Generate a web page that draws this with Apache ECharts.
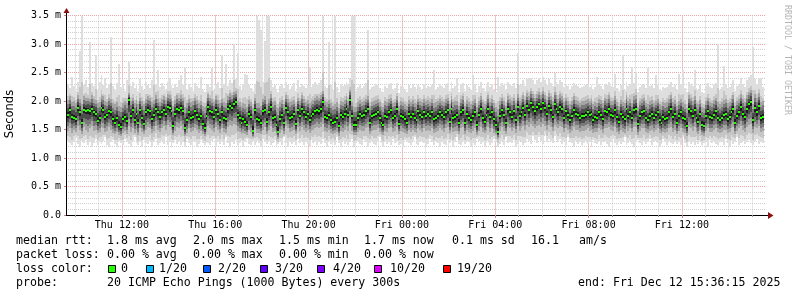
<!DOCTYPE html>
<html><head><meta charset="utf-8">
<script src="https://cdn.jsdelivr.net/npm/echarts@6/dist/echarts.min.js"></script>
<style>html,body{margin:0;padding:0;background:#fff}#c{width:797px;height:297px}</style>
</head><body><div id="c"></div>
<script>
// ---- time axis (hours since Thu 00:00) ----
const X_MIN = 9 + 36/60 + 15/3600;      // Thu 09:36:15
const X_MAX = X_MIN + 30;               // Fri 15:36:15
const SAMPLE_START = 9 + 40/60;          // first sample Thu 09:40
const SAMPLE_STEP = 5/60;                // 300 s
const hourTicks = [10,11,12,13,14,15,16,17,18,19,20,21,22,23,24,25,26,27,28,29,30,31,32,33,34,35,36,37,38,39];
const majorTicks = [12,16,20,24,28,32,36];
const majorLabels = ['Thu 12:00','Thu 16:00','Thu 20:00','Fri 00:00','Fri 04:00','Fri 08:00','Fri 12:00'];
const yTickLabels = ['0.0','0.5 m','1.0 m','1.5 m','2.0 m','2.5 m','3.0 m','3.5 m'];

// ---- median rtt (ms) ----
const med = [
1.75,1.84,1.72,1.70,1.68,1.88,1.80,1.62,1.85,1.83,1.84,1.82,
1.86,1.80,1.78,1.65,1.70,1.88,1.85,1.72,1.75,1.82,1.80,1.68,
1.62,1.70,1.58,1.55,1.68,1.72,1.65,2.02,1.74,1.85,1.66,1.78,
1.62,1.84,1.70,1.60,1.80,1.85,1.82,1.68,1.76,1.86,1.80,1.72,
1.80,1.85,1.78,1.90,1.88,1.82,1.56,1.78,1.86,1.84,1.88,1.82,
1.52,1.66,1.80,1.70,1.72,1.82,1.76,1.68,1.74,1.60,1.53,1.74,
1.90,1.82,1.80,1.72,1.85,1.78,1.66,1.80,1.70,1.68,1.86,1.92,
1.88,1.95,1.99,1.75,1.70,1.62,1.68,1.64,1.58,1.78,1.72,1.48,
1.84,1.68,1.66,1.62,1.82,1.85,1.64,1.80,1.90,1.70,1.72,1.58,
1.46,1.68,1.75,1.62,1.88,1.80,1.70,1.72,1.78,1.60,1.84,1.74,
1.86,1.80,1.72,1.78,1.66,1.74,1.78,1.82,1.84,1.82,1.86,1.98,
1.72,1.70,1.76,1.66,1.62,1.64,1.70,1.56,1.75,1.72,1.78,1.86,
1.76,2.02,1.74,1.58,1.58,1.70,1.78,1.74,1.75,1.82,1.86,1.62,
1.74,1.76,1.78,1.80,1.70,1.62,1.58,1.74,1.72,1.80,1.84,1.70,
1.74,1.86,1.60,1.74,1.72,1.68,1.62,1.78,1.72,1.78,1.70,1.66,
1.82,1.76,1.72,1.80,1.74,1.78,1.74,1.80,1.68,1.70,1.74,1.80,
1.76,1.72,1.80,1.84,1.64,1.86,1.70,1.72,1.75,1.62,1.80,1.84,
1.62,1.78,1.70,1.66,1.74,1.80,1.58,1.76,1.86,1.70,1.64,1.76,
1.86,1.72,1.80,1.68,1.58,1.45,1.74,1.84,1.76,1.62,1.86,1.80,
1.72,1.82,1.66,1.90,1.74,1.80,1.88,1.76,1.92,1.84,1.96,1.90,
1.82,1.90,1.94,1.86,1.96,1.88,1.78,1.92,1.84,1.72,1.94,1.86,
1.80,1.90,1.86,1.70,1.82,1.76,1.66,1.74,1.84,1.78,1.76,1.70,
1.74,1.74,1.76,1.80,1.75,1.78,1.66,1.72,1.70,1.80,1.76,1.68,
1.82,1.80,1.86,1.76,1.74,1.84,1.72,1.64,1.78,1.72,1.68,1.86,
1.74,1.80,1.70,1.84,1.86,1.60,1.74,1.80,1.82,1.70,1.66,1.74,
1.78,1.70,1.76,1.80,1.66,1.62,1.72,1.68,1.70,1.80,1.86,1.72,
1.78,1.62,1.74,1.80,1.70,1.68,1.56,1.86,1.82,1.74,1.84,1.70,
1.64,1.78,1.58,1.56,1.74,1.82,1.72,1.70,1.76,1.82,1.70,1.66,
1.70,1.76,1.78,1.68,1.72,1.80,1.86,1.62,1.74,1.80,1.90,1.78,
1.72,1.86,1.94,1.98,1.66,1.88,1.80,1.92,1.70,1.72];

// ---- fastest ping per sample (ms) ----
const mn = [
1.30,1.26,1.22,1.28,1.35,1.24,1.20,1.30,1.26,1.32,1.22,1.28,
1.20,1.26,1.34,1.22,1.28,1.24,1.30,1.36,1.22,1.20,1.28,1.32,
1.24,1.20,1.30,1.26,1.22,1.34,1.28,1.24,1.20,1.30,1.36,1.26,
1.22,1.28,1.20,1.32,1.26,1.24,1.30,1.20,1.28,1.34,1.22,1.26,
1.30,1.24,1.36,1.22,1.28,1.20,1.26,1.32,1.24,1.30,1.22,1.28,
1.20,1.34,1.26,1.22,1.30,1.28,1.20,1.24,1.32,1.26,1.22,1.30,
1.26,1.22,1.30,1.34,1.20,1.28,1.24,1.30,1.22,1.36,1.26,1.20,
1.28,1.24,1.32,1.22,1.26,1.30,1.20,1.28,1.34,1.24,1.22,1.30,
1.22,1.30,1.26,1.20,1.34,1.28,1.24,1.30,1.22,1.26,1.32,1.20,
1.24,1.28,1.22,1.36,1.26,1.20,1.30,1.24,1.28,1.22,1.34,1.26,
1.30,1.22,1.28,1.24,1.20,1.32,1.26,1.30,1.22,1.28,1.24,1.34,
1.26,1.20,1.30,1.24,1.28,1.22,1.36,1.26,1.20,1.30,1.24,1.28,
1.22,1.28,1.34,1.20,1.26,1.30,1.24,1.22,1.32,1.28,1.20,1.26,
1.30,1.24,1.22,1.28,1.36,1.26,1.20,1.30,1.24,1.28,1.22,1.34,
1.26,1.30,1.22,1.24,1.20,1.32,1.28,1.26,1.22,1.30,1.36,1.24,
1.22,1.28,1.30,1.26,1.20,1.24,1.34,1.28,1.22,1.30,1.26,1.20,
1.28,1.24,1.22,1.32,1.26,1.30,1.20,1.28,1.36,1.24,1.22,1.30,
1.24,1.30,1.28,1.20,1.26,1.22,1.34,1.30,1.24,1.28,1.20,1.26,
1.30,1.22,1.26,1.34,1.28,1.20,1.24,1.30,1.22,1.36,1.26,1.28,
1.26,1.32,1.20,1.24,1.30,1.28,1.22,1.26,1.34,1.30,1.24,1.38,
1.32,1.26,1.36,1.30,1.24,1.40,1.28,1.34,1.30,1.26,1.38,1.32,
1.28,1.34,1.24,1.30,1.22,1.36,1.28,1.26,1.20,1.30,1.24,1.28,
1.22,1.26,1.30,1.24,1.28,1.20,1.32,1.26,1.24,1.30,1.22,1.28,
1.30,1.24,1.20,1.28,1.34,1.26,1.22,1.30,1.24,1.28,1.36,1.22,
1.26,1.30,1.24,1.20,1.28,1.32,1.26,1.22,1.30,1.24,1.28,1.34,
1.22,1.28,1.30,1.26,1.20,1.24,1.34,1.28,1.22,1.30,1.26,1.24,
1.30,1.24,1.28,1.22,1.36,1.26,1.20,1.30,1.24,1.28,1.22,1.32,
1.24,1.30,1.22,1.26,1.28,1.20,1.32,1.26,1.30,1.24,1.22,1.28,
1.28,1.22,1.34,1.26,1.20,1.30,1.24,1.28,1.36,1.22,1.26,1.30,
1.24,1.28,1.32,1.26,1.22,1.30,1.34,1.24,1.28,1.26];

// ---- lower inner ping band (ms) ----
const lo = [
1.48,1.52,1.44,1.50,1.46,1.56,1.50,1.42,1.54,1.50,1.46,1.52,
1.56,1.48,1.50,1.44,1.46,1.54,1.52,1.46,1.48,1.54,1.50,1.44,
1.42,1.46,1.40,1.38,1.44,1.48,1.42,1.56,1.46,1.52,1.44,1.50,
1.40,1.52,1.46,1.42,1.50,1.54,1.52,1.44,1.48,1.56,1.50,1.46,
1.52,1.56,1.50,1.58,1.54,1.50,1.40,1.48,1.54,1.52,1.56,1.50,
1.38,1.44,1.52,1.46,1.48,1.52,1.50,1.44,1.48,1.42,1.38,1.46,
1.56,1.52,1.50,1.46,1.54,1.50,1.44,1.52,1.46,1.44,1.54,1.58,
1.56,1.60,1.58,1.48,1.46,1.42,1.44,1.42,1.40,1.50,1.46,1.36,
1.52,1.44,1.44,1.42,1.50,1.54,1.42,1.50,1.56,1.46,1.48,1.40,
1.34,1.44,1.50,1.42,1.56,1.52,1.46,1.48,1.50,1.42,1.54,1.48,
1.54,1.50,1.46,1.50,1.44,1.48,1.50,1.52,1.54,1.52,1.54,1.60,
1.48,1.46,1.50,1.44,1.42,1.44,1.46,1.38,1.48,1.46,1.50,1.54,
1.48,1.60,1.48,1.40,1.40,1.46,1.50,1.48,1.48,1.52,1.54,1.42,
1.48,1.50,1.50,1.52,1.46,1.42,1.40,1.48,1.46,1.52,1.54,1.46,
1.48,1.54,1.42,1.48,1.46,1.44,1.42,1.50,1.46,1.50,1.46,1.44,
1.52,1.50,1.46,1.52,1.48,1.50,1.48,1.52,1.44,1.46,1.48,1.52,
1.50,1.46,1.52,1.54,1.44,1.54,1.46,1.48,1.48,1.42,1.52,1.54,
1.42,1.50,1.46,1.44,1.48,1.52,1.40,1.48,1.54,1.46,1.44,1.48,
1.54,1.46,1.52,1.44,1.40,1.34,1.48,1.54,1.48,1.42,1.54,1.52,
1.48,1.52,1.44,1.56,1.48,1.52,1.56,1.50,1.58,1.54,1.60,1.56,
1.52,1.56,1.58,1.54,1.60,1.56,1.50,1.58,1.54,1.48,1.58,1.54,
1.52,1.56,1.54,1.46,1.52,1.50,1.44,1.48,1.54,1.50,1.50,1.46,
1.48,1.48,1.50,1.52,1.48,1.50,1.44,1.46,1.46,1.52,1.50,1.44,
1.52,1.52,1.54,1.50,1.48,1.54,1.46,1.42,1.50,1.46,1.44,1.54,
1.48,1.52,1.46,1.54,1.54,1.40,1.48,1.52,1.52,1.46,1.44,1.48,
1.50,1.46,1.50,1.52,1.44,1.42,1.46,1.44,1.46,1.52,1.54,1.46,
1.50,1.42,1.48,1.52,1.46,1.44,1.38,1.54,1.52,1.48,1.54,1.46,
1.42,1.50,1.40,1.38,1.48,1.52,1.46,1.46,1.50,1.52,1.46,1.44,
1.46,1.50,1.50,1.44,1.46,1.52,1.54,1.42,1.48,1.52,1.56,1.50,
1.46,1.54,1.58,1.60,1.44,1.54,1.52,1.56,1.46,1.48];

// ---- upper inner ping band (ms) ----
const hi = [
2.02,2.08,1.98,2.00,1.96,2.10,2.04,1.94,2.08,2.06,2.06,2.04,
2.10,2.04,2.02,1.96,1.98,2.10,2.08,2.00,1.98,2.06,2.04,1.96,
1.94,1.98,1.92,1.90,1.96,2.00,1.96,2.14,2.00,2.06,1.96,2.02,
1.94,2.06,2.00,1.94,2.04,2.08,2.06,1.98,2.02,2.10,2.04,1.98,
2.04,2.08,2.02,2.12,2.10,2.06,1.92,2.02,2.10,2.06,2.10,2.06,
1.90,1.96,2.04,1.98,2.00,2.06,2.02,1.96,2.00,1.92,1.90,1.98,
2.12,2.06,2.04,1.98,2.08,2.02,1.96,2.04,1.98,1.96,2.08,2.14,
2.10,2.16,2.18,2.00,1.98,1.92,1.96,1.94,1.90,2.02,1.98,1.88,
2.06,1.96,1.96,1.92,2.04,2.08,1.94,2.04,2.12,1.98,2.00,1.90,
1.88,1.98,2.02,1.94,2.10,2.04,1.98,2.00,2.02,1.92,2.06,2.00,
2.10,2.04,1.98,2.02,1.96,2.00,2.02,2.06,2.08,2.06,2.10,2.18,
2.00,1.98,2.02,1.96,1.92,1.94,1.98,1.88,2.00,1.98,2.02,2.08,
2.00,2.20,1.98,1.90,1.90,1.98,2.02,1.98,2.00,2.04,2.08,1.92,
1.98,2.00,2.02,2.04,1.98,1.92,1.90,2.00,1.98,2.04,2.06,1.96,
1.98,2.08,1.92,2.00,1.98,1.94,1.92,2.02,1.98,2.02,1.96,1.94,
2.04,2.00,1.98,2.04,2.00,2.02,1.98,2.04,1.96,1.98,2.00,2.04,
2.00,1.98,2.04,2.06,1.94,2.08,1.98,2.00,2.00,1.92,2.04,2.08,
1.92,2.02,1.98,1.94,2.00,2.04,1.90,2.00,2.08,1.98,1.94,2.00,
2.10,1.98,2.04,1.96,1.90,1.86,2.00,2.06,2.00,1.92,2.08,2.04,
2.00,2.06,1.96,2.12,2.00,2.04,2.10,2.02,2.14,2.08,2.18,2.12,
2.06,2.12,2.16,2.10,2.18,2.10,2.02,2.14,2.08,2.00,2.16,2.10,
2.04,2.12,2.08,1.98,2.06,2.00,1.94,2.00,2.08,2.02,2.00,1.96,
2.00,2.00,2.02,2.04,2.00,2.04,1.94,1.98,1.96,2.04,2.02,1.96,
2.06,2.04,2.10,2.00,2.00,2.08,1.98,1.92,2.02,1.98,1.96,2.10,
2.00,2.04,1.96,2.08,2.10,1.90,2.00,2.04,2.06,1.96,1.94,2.00,
2.02,1.96,2.00,2.04,1.94,1.92,1.98,1.96,1.98,2.04,2.10,1.98,
2.02,1.92,2.00,2.04,1.98,1.94,1.88,2.10,2.06,2.00,2.08,1.96,
1.94,2.02,1.90,1.88,2.00,2.06,1.98,1.96,2.02,2.06,1.98,1.94,
1.98,2.02,2.04,1.96,1.98,2.04,2.10,1.92,2.00,2.04,2.12,2.04,
1.98,2.10,2.16,2.20,1.94,2.12,2.06,2.14,1.98,2.00];

// ---- slowest ping per sample (ms) ----
const mx = [
2.30,2.22,2.42,2.26,2.18,2.34,2.88,3.50,2.28,2.36,2.24,3.04,
2.32,2.26,2.80,2.20,2.34,2.45,2.28,2.40,2.22,2.30,3.13,2.26,
2.20,2.32,2.65,2.24,2.30,2.18,2.36,2.68,2.26,2.34,2.22,2.30,
2.18,2.38,2.26,2.20,2.34,2.28,2.22,2.36,3.07,2.30,2.55,2.24,
2.32,2.26,2.20,2.34,2.40,2.28,2.22,2.30,2.24,2.36,2.45,2.28,
2.58,2.20,2.30,2.24,2.18,2.32,2.26,2.22,2.42,2.20,2.16,2.28,
2.30,2.24,2.58,2.20,2.28,2.34,2.22,2.80,2.30,2.65,2.26,2.36,
2.32,3.00,2.38,2.84,2.26,2.20,2.30,2.47,2.46,2.28,2.22,2.18,
2.30,3.50,3.42,3.25,2.34,3.05,3.50,3.50,2.36,2.24,2.28,2.20,
2.16,2.26,2.30,2.22,2.34,2.28,2.20,2.26,2.32,2.18,2.36,2.24,
2.30,2.26,2.22,2.28,2.60,2.24,2.30,2.34,2.28,2.32,2.36,3.50,
2.26,2.22,3.04,2.28,2.20,3.50,2.24,2.16,2.30,2.26,2.28,2.34,
2.30,2.40,3.50,3.50,2.18,2.24,2.28,2.22,2.26,2.32,3.25,2.20,
2.24,2.26,2.30,2.28,2.22,2.18,2.16,2.26,2.22,2.30,2.32,2.20,
2.22,2.32,2.14,2.26,2.24,2.20,2.16,2.28,2.22,2.30,2.24,2.18,
2.28,2.24,2.20,2.30,2.22,2.26,2.24,2.28,2.55,2.20,2.24,2.30,
2.26,2.22,2.30,2.32,2.18,2.34,2.22,2.26,2.40,2.16,2.30,2.32,
2.18,2.28,2.24,2.20,2.45,2.30,2.16,2.26,2.34,2.22,2.18,2.26,
2.34,2.24,2.30,2.20,2.16,2.42,2.26,2.32,2.28,2.20,2.34,2.30,
2.26,2.32,2.22,2.84,2.28,2.30,2.36,2.26,2.38,2.40,2.40,2.36,
2.30,2.36,2.40,2.34,2.42,2.36,2.28,2.38,2.32,2.26,2.50,2.34,
2.30,2.36,2.34,2.24,2.30,2.26,2.20,2.26,2.32,2.28,2.26,2.22,
2.24,2.26,2.28,2.30,2.24,2.28,2.20,2.24,2.42,2.30,2.26,2.20,
2.30,2.28,2.34,2.26,2.24,2.47,2.22,2.18,2.28,2.80,2.20,2.34,
2.26,2.30,2.60,2.32,2.51,2.16,2.24,2.28,2.30,2.22,2.58,2.26,
2.28,2.22,2.45,2.30,2.20,2.18,2.24,2.22,2.24,2.30,2.34,2.24,
2.28,2.20,2.47,2.30,2.54,2.22,2.16,2.34,2.30,2.26,2.55,2.22,
2.20,2.28,2.16,2.14,2.26,2.32,2.24,2.22,2.28,2.32,3.00,2.20,
2.24,2.62,2.30,2.22,2.24,2.30,2.36,2.18,2.26,2.30,2.40,2.30,
2.24,2.36,2.42,2.46,2.95,2.38,2.30,2.40,2.40,2.24];

// ---- legend texts ----
const statsRtt = ['1.8 ms avg','2.0 ms max','1.5 ms min','1.7 ms now','0.1 ms sd','16.1','am/s'];
const statsLoss = ['0.00 % avg','0.00 % max','0.00 % min','0.00 % now'];
const lossLabels = ['0','1/20','2/20','3/20','4/20','10/20','19/20'];
const lossColors = ['#26ff00','#00b8ff','#0059ff','#5e00ff','#7e00ff','#dd00ff','#ff0000'];
const probeText = '20 ICMP Echo Pings (1000 Bytes) every 300s';
const endText = 'end: Fri Dec 12 15:36:15 2025';

// ---- build ----
const n = Math.min(med.length, mn.length, lo.length, hi.length, mx.length);
const rows = [];
for (let i = 0; i < n; i++) rows.push([SAMPLE_START + i*SAMPLE_STEP, mn[i], lo[i], med[i], hi[i], mx[i]]);

function renderItem(params, api) {
  const t = api.value(0);
  const xa = Math.round(api.coord([t, 0])[0]);
  const xb = Math.round(api.coord([t + SAMPLE_STEP, 0])[0]);
  const w = Math.max(1, xb - xa);
  const Y = v => api.coord([t, v])[1];
  const vmn = api.value(1), vlo = api.value(2), vmd = api.value(3), vhi = api.value(4), vmx = api.value(5);
  const band = (a, b, c) => {
    const ya = Math.round(Y(b)), yb = Math.round(Y(a));
    return {type:'rect', shape:{x:xa, y:ya, width:w, height:Math.max(1, yb-ya)}, style:{fill:c}};
  };
  const ch = [band(vmn, vmx, '#dedede')];
  ch.push(band(vmn + (vlo-vmn)*0.45, vhi + (vmx-vhi)*0.25, '#c6c6c6'));
  [[1,'#a4a4a4'],[0.72,'#7a7a7a'],[0.46,'#4c4c4c'],[0.2,'#1c1c1c']].forEach(([f,c]) => {
    ch.push(band(vmd - (vmd-vlo)*f, vmd + (vhi-vmd)*f, c));
  });
  const ym = Math.round(Y(vmd));
  ch.push({type:'rect', shape:{x:xa, y:ym-1, width:w, height:2}, style:{fill:lossColors[0]}});
  return {type:'group', children: ch};
}

const MONO = '"DejaVu Sans Mono", monospace';
const txt = (x, y, s, extra) => Object.assign({type:'text', x:x, y:y, silent:true,
  style:{text:s, x:0, y:0, fill:'#000', font:'11.6px ' + MONO, textAlign:'left', textVerticalAlign:'middle'}}, extra||{});

const graphics = [];
graphics.push(txt(16, 241, 'median rtt:'));
[107,193,279,364,452,531,579].forEach((x,k) => graphics.push(txt(x, 241, statsRtt[k])));
graphics.push(txt(16, 255, 'packet loss:'));
[107,193,279,364].forEach((x,k) => graphics.push(txt(x, 255, statsLoss[k])));
graphics.push(txt(16, 269, 'loss color:'));
const boxX = [108,146,203,260,317,374,443];
const lblX = [121,159,218,275,333,390,457];
lossLabels.forEach((l,k) => {
  graphics.push({type:'rect', silent:true, shape:{x:boxX[k]+0.5, y:265.5, width:7, height:7}, style:{fill:lossColors[k], stroke:'#000', lineWidth:1}});
  graphics.push(txt(lblX[k], 269, l));
});
graphics.push(txt(16, 283, 'probe:'));
graphics.push(txt(107, 283, probeText));
graphics.push(txt(578, 283, endText));
graphics.push({type:'text', x:10, y:114, rotation:Math.PI/2, silent:true,
  style:{text:'Seconds', x:0, y:0, fill:'#000', font:'11.5px "DejaVu Sans", sans-serif', textAlign:'center', textVerticalAlign:'middle'}});
graphics.push({type:'text', x:787, y:60, rotation:-Math.PI/2, silent:true,
  style:{text:'RRDTOOL / TOBI OETIKER', x:0, y:0, fill:'#b4b4b4', font:'8.3px ' + MONO, textAlign:'center', textVerticalAlign:'middle'}});
graphics.push({type:'line', silent:true, shape:{x1:66.5, y1:16, x2:66.5, y2:12}, style:{stroke:'#000', lineWidth:1}});
graphics.push({type:'line', silent:true, shape:{x1:766, y1:215.5, x2:769, y2:215.5}, style:{stroke:'#000', lineWidth:1}});
graphics.push({type:'polygon', silent:true, shape:{points:[[63.5,13],[66.5,8],[69.5,13]]}, style:{fill:'#8b1010'}});
graphics.push({type:'polygon', silent:true, shape:{points:[[768,212],[773.5,215.5],[768,219]]}, style:{fill:'#8b1010'}});

const chart = echarts.init(document.getElementById('c'), null, {renderer:'canvas'});
chart.setOption({
  animation: false,
  backgroundColor: '#ffffff',
  grid: {left:66, right:31, top:15.5, bottom:82, containLabel:false},
  xAxis: [
    {type:'value', min:X_MIN, max:X_MAX, position:'bottom',
     axisLine:{show:true, onZero:false, lineStyle:{color:'#000', width:1}},
     axisTick:{show:true, length:2, inside:false, customValues:hourTicks, lineStyle:{color:'#999'}},
     axisLabel:{show:false},
     splitLine:{show:true, lineStyle:{color:'#cfcfcf', type:[1,1], width:1}}},
    {type:'value', min:X_MIN, max:X_MAX, position:'bottom',
     axisLine:{show:false},
     axisTick:{show:true, length:3, customValues:majorTicks, lineStyle:{color:'#d08080'}},
     axisLabel:{show:true, customValues:majorTicks, margin:5, color:'#000', fontSize:10, fontFamily:MONO,
       formatter: v => majorLabels[majorTicks.indexOf(Math.round(v))] || ''},
     splitLine:{show:true, lineStyle:{color:'#f0a4a4', type:[1,1], width:1}}}
  ],
  yAxis: {type:'value', min:0, max:3.5, interval:0.5,
    axisLine:{show:true, lineStyle:{color:'#000', width:1}},
    axisTick:{show:true, length:2, lineStyle:{color:'#d08080'}},
    axisLabel:{margin:5, color:'#000', fontSize:10, fontFamily:MONO,
      formatter: v => yTickLabels[Math.round(v/0.5)]},
    splitLine:{show:true, lineStyle:{color:'#f0a4a4', type:[1,1], width:1}},
    minorTick:{show:false, splitNumber:5},
    minorSplitLine:{show:true, lineStyle:{color:'#cfcfcf', type:[1,1], width:1}}},
  series: [{
    type:'custom', xAxisIndex:0, yAxisIndex:0, renderItem: renderItem, clip:true,
    encode:{x:0, y:[1,2,3,4,5]}, data: rows, silent:true, z:3
  }],
  graphic: graphics
});
</script></body></html>
